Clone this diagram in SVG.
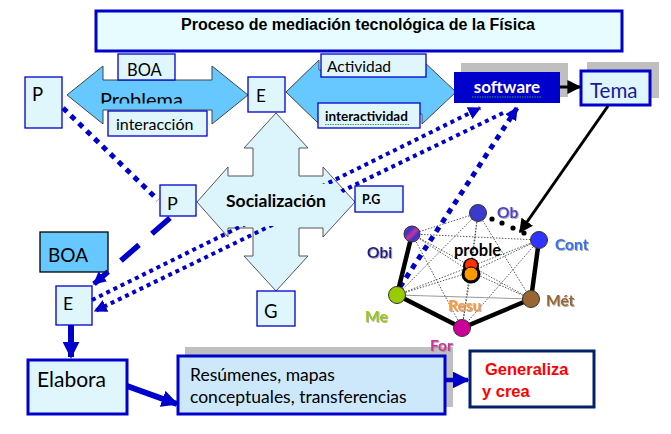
<svg xmlns="http://www.w3.org/2000/svg" width="671" height="434" viewBox="0 0 671 434">
<style>
.box{fill:#dff6fd;stroke:#0000cc;stroke-width:1.3}
.thick{fill:#dff6fd;stroke:#0000cc;stroke-width:3}
.shadow{fill:#bfbfbf}
.arrowshape{fill:#66c8ff;stroke:#444;stroke-width:1}
.cross{fill:#dcf4fb;stroke:#555;stroke-width:1}
.cal{font-family:Lato,"Liberation Sans",sans-serif;fill:#000}
.ari{font-family:"Liberation Sans",Arial,sans-serif;font-weight:bold}
.lbl{font-family:Lato,"Liberation Sans",sans-serif;font-weight:bold;font-size:15.5px;filter:url(#sh)}
.dot{fill:none;stroke:#0000cc;stroke-width:4;stroke-dasharray:4 4}
.dotL{fill:none;stroke:#0000cc;stroke-width:5;stroke-dasharray:5.5 5.5}
.edge{stroke:#444;stroke-width:0.9;stroke-dasharray:1.5 1.5;fill:none}
.bold{stroke:#000;stroke-width:4.5;fill:none;stroke-linecap:round}
.node{stroke:#333;stroke-width:1}
.squig{fill:none;stroke:#3aa33a;stroke-width:1;stroke-dasharray:1.5 1}
</style>
<defs>
<marker id="hb" viewBox="0 0 10 10" refX="9" refY="5" markerWidth="13" markerHeight="13" markerUnits="userSpaceOnUse" orient="auto"><path d="M0,0 L10,5 L0,10 z" fill="#0000cc"/></marker>
<marker id="hbL" viewBox="0 0 10 10" refX="9" refY="5" markerWidth="17" markerHeight="17" markerUnits="userSpaceOnUse" orient="auto"><path d="M0,0 L10,5 L0,10 z" fill="#0000cc"/></marker>
<marker id="hk" viewBox="0 0 10 10" refX="9" refY="5" markerWidth="14" markerHeight="14" markerUnits="userSpaceOnUse" orient="auto"><path d="M0,0 L10,5 L0,10 z" fill="#000"/></marker>
<linearGradient id="gObi" x1="0" y1="0" x2="1" y2="1">
<stop offset="0" stop-color="#cc3399"/><stop offset="0.3" stop-color="#3333cc"/><stop offset="0.5" stop-color="#cc3399"/><stop offset="0.7" stop-color="#3333cc"/><stop offset="1" stop-color="#cc3399"/>
</linearGradient>
<clipPath id="clipProb"><rect x="60" y="60" width="200" height="43.5"/></clipPath>
<filter id="sh" x="-10%" y="-10%" width="130%" height="140%"><feDropShadow dx="1" dy="1" stdDeviation="0.4" flood-color="#999" flood-opacity="0.8"/></filter>
</defs>

<rect width="671" height="434" fill="#fff"/>

<g id="title">
<rect x="96" y="11" width="526" height="40" fill="#e6fcff" stroke="#0000cc" stroke-width="3"/>
<text x="358" y="30" class="ari" font-size="16" text-anchor="middle" fill="#000">Proceso de mediación tecnológica de la Física</text>
</g>

<g id="problema-arrow">
<polygon class="arrowshape" points="67,95 103,66 103,80 212,80 212,66 248,95 212,124 212,110 103,110 103,124"/>
<text x="100" y="106.5" class="cal" font-size="20" clip-path="url(#clipProb)">Problema</text>
</g>
<g id="boa-top">
<rect class="box" x="118" y="54" width="57" height="26"/>
<text x="127" y="76" class="cal" font-size="16.5">BOA</text>
</g>
<g id="interaccion">
<rect class="box" x="108" y="111" width="99" height="25"/>
<text x="116" y="130" class="cal" font-size="16">interacción</text>
</g>

<g id="actividad-arrow">
<polygon class="arrowshape" points="286,92 319,60 319,70 422,70 422,60 456,92 422,124 422,114 319,114 319,124"/>
</g>
<g id="actividad">
<rect class="box" x="321" y="54" width="105" height="23"/>
<text x="327" y="72" class="cal" font-size="15.5">Actividad</text>
</g>
<g id="interactividad">
<rect class="box" x="318" y="103" width="102" height="25"/>
<text x="325" y="121" class="cal" font-size="13.5" font-weight="bold">interactividad</text>
<path class="squig" d="M325,124.5 L410,124.5"/>
</g>

<g id="p-top">
<rect class="box" x="25" y="77" width="37" height="51"/>
<text x="32" y="101" class="cal" font-size="18.5">P</text>
</g>
<g id="e-top">
<rect class="box" x="248" y="77" width="37" height="35"/>
<text x="256" y="102" class="cal" font-size="17">E</text>
</g>

<g id="software">
<rect class="shadow" x="461" y="63" width="107" height="34"/>
<rect x="454" y="72" width="106" height="31" fill="#0000cc"/>
<text x="507" y="93" class="cal" font-size="17" font-weight="bold" text-anchor="middle" style="fill:#fff">software</text>
<path class="squig" d="M472,97 L541,97"/>
</g>

<g id="tema">
<rect class="shadow" x="587" y="62" width="72" height="36"/>
<rect class="thick" x="581" y="71" width="69" height="34"/>
<text x="590" y="98" class="cal" font-size="20.5" style="fill:#1a1a99">Tema</text>
</g>

<g id="socializacion">
<polygon class="cross" points="276,113 308,148 299,148 299,176 323,176 323,167 355,202 323,237 323,228 299,228 299,256 308,256 276,291 244,256 253,256 253,228 228,228 228,237 197,202 228,167 228,176 253,176 253,148 244,148"/>
</g>

<g id="p-mid">
<rect class="box" x="160" y="185" width="36" height="31"/>
<text x="167" y="210" class="cal" font-size="18">P</text>
</g>
<g id="pg">
<rect class="box" x="355" y="186" width="48" height="26"/>
<text x="362" y="204" class="cal" font-size="12.5" font-weight="bold">P.G</text>
</g>
<g id="g">
<rect class="box" x="257" y="291" width="38" height="35"/>
<text x="264" y="318" class="cal" font-size="18.5">G</text>
</g>
<g id="boa-left">
<rect x="40" y="232" width="68" height="40" fill="#66c8ff" stroke="#000" stroke-width="1.3"/>
<text x="48" y="262" class="cal" font-size="19">BOA</text>
</g>
<g id="e-low">
<rect class="box" x="56" y="286" width="36" height="39"/>
<text x="63" y="310" class="cal" font-size="17.5">E</text>
</g>

<g id="elabora">
<rect class="thick" x="28" y="360" width="99" height="54"/>
<text x="37" y="387" class="cal" font-size="21">Elabora</text>
</g>
<g id="resumenes">
<rect class="shadow" x="185" y="347" width="268" height="60"/>
<rect class="thick" x="178" y="356" width="267" height="58" style="fill:#cce8fa"/>
<text x="190" y="381" class="cal" font-size="17.5">Resúmenes, mapas</text>
<text x="190" y="403" class="cal" font-size="17.5">conceptuales, transferencias</text>
</g>
<g id="generaliza">
<rect x="470" y="351" width="124" height="56" fill="#fff" stroke="#002266" stroke-width="3"/>
<text x="485" y="375" class="ari" font-size="16.5" fill="#ff0000">Generaliza</text>
<text x="482" y="397" class="ari" font-size="16.5" fill="#ff0000">y crea</text>
</g>

<g id="connectors">
<path class="dotL" d="M63,108 L158,200"/>
<path d="M170,218 L94,284" fill="none" stroke="#0000cc" stroke-width="5.5" stroke-dasharray="24 17" marker-end="url(#hb)"/>
<path class="dot" d="M92,300 L480,108" marker-end="url(#hb)"/>
<path class="dot" d="M503,113 L95,311" marker-end="url(#hb)"/>
<path class="dotL" d="M400,287 L517,108" marker-end="url(#hb)"/>
<path d="M608,106 L520,232" fill="none" stroke="#000" stroke-width="3" marker-end="url(#hk)"/>
<path d="M560,87 L580,87" fill="none" stroke="#000" stroke-width="3" marker-end="url(#hk)"/>
<path d="M71,325 L71,357" fill="none" stroke="#0000cc" stroke-width="6" marker-end="url(#hbL)"/>
<path d="M127,386 L177,404" fill="none" stroke="#0000cc" stroke-width="6" marker-end="url(#hbL)"/>
<path d="M445,380 L468,380" fill="none" stroke="#0000cc" stroke-width="4.5" marker-end="url(#hbL)"/>
</g>

<g id="socializacion-label">
<polygon points="216,184 200,202 220,226 332,226 352,203 335,184" fill="#dcf4fb"/>
<text x="276" y="207" class="cal" font-size="17.5" font-weight="bold" text-anchor="middle">Socialización</text>
</g>

<g id="graph-edges">
<path class="edge" d="M478,213 L412,234 M478,213 L397,295 M478,213 L462,328 M478,213 L531,299 M478,213 L471,272 M412,234 L539,240 M412,234 L462,328 M412,234 L531,299 M412,234 L471,272 M397,295 L539,240 M397,295 L471,272 M539,240 L462,328 M539,240 L471,272 M531,299 L471,272 M462,328 L471,272"/>
<path d="M397,295 L531,299" stroke="#999" stroke-width="1" fill="none"/>
<path class="bold" d="M412,234 L397,295 L462,328 L531,299 L539,240"/>
<g fill="#000"><circle cx="492" cy="219" r="2.6"/><circle cx="502" cy="223" r="2.6"/><circle cx="513" cy="228" r="2.6"/><circle cx="524" cy="233" r="2.6"/></g>
</g>
<g id="n-ob"><circle class="node" cx="478" cy="213" r="8.5" fill="#3a3acc"/><text x="497" y="218" class="lbl" fill="#5040cc">Ob</text></g>
<g id="n-cont"><circle class="node" cx="539" cy="240" r="8.5" fill="#3333ff"/><text x="555" y="250" class="lbl" fill="#2f6ff0">Cont</text></g>
<g id="n-obi"><circle class="node" cx="412" cy="234" r="8" fill="url(#gObi)"/><text x="367" y="258" class="lbl" fill="#1a1a88">Obi</text></g>
<g id="n-me"><circle class="node" cx="397" cy="295" r="8.5" fill="#99cc00"/><text x="365" y="322" class="lbl" fill="#99cc00">Me</text></g>
<g id="n-for"><circle class="node" cx="462" cy="328" r="8.5" fill="#cc0099"/><text x="430" y="351" class="lbl" fill="#cc3399">For</text></g>
<g id="n-met"><circle class="node" cx="531" cy="299" r="8.5" fill="#996633"/><text x="546" y="306" class="lbl" fill="#996633">Mét</text></g>
<g id="n-proble">
<circle cx="471" cy="266" r="8" fill="#000"/>
<circle cx="471" cy="274" r="9.5" fill="#000"/>
<circle cx="471" cy="265" r="6" fill="#ff3300"/>
<circle cx="471" cy="274" r="7" fill="#ff9900" stroke="#000" stroke-width="1"/>
<text x="454" y="256" class="cal" font-size="16.5" font-weight="bold">proble</text>
<text x="448" y="311" class="lbl" fill="#ff9933">Resu</text>
</g>
</svg>
